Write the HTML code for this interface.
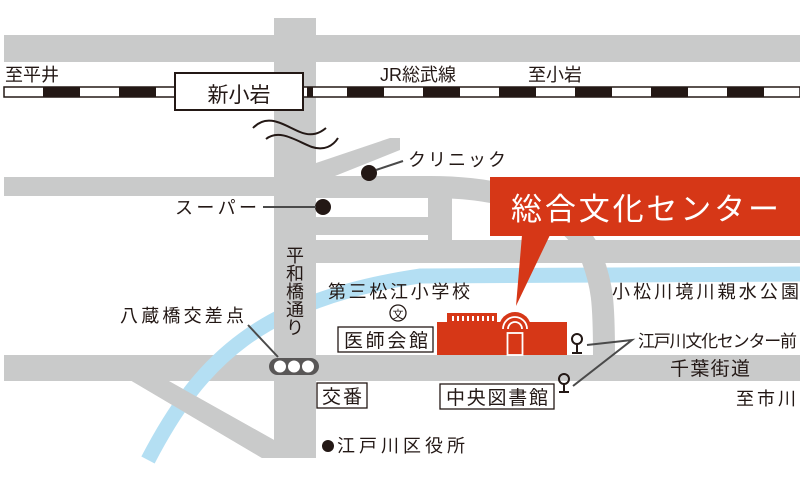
<!DOCTYPE html>
<html><head><meta charset="utf-8"><style>
body{margin:0;background:#fff}
svg{display:block}
text{font-family:"Liberation Sans","Noto Sans CJK JP",sans-serif;fill:#231815}
</style></head><body>
<svg width="800" height="478" viewBox="0 0 800 478" xmlns="http://www.w3.org/2000/svg">
<rect width="800" height="478" fill="#fff"/>
<g fill="#c9caca" stroke="none">
<rect x="4" y="35" width="796" height="27"/>
<rect x="274" y="18" width="42" height="440"/>
<rect x="4" y="177" width="312" height="19"/>
<rect x="4" y="355" width="796" height="26"/>
<polygon points="130,380 167,380 274,440 274,458 262,458"/>
<polygon points="316,163 390,138 400,138 400,150 330,178 316,178"/>
<rect x="316" y="217" width="115" height="18"/>
<rect x="316" y="240" width="484" height="23"/>
</g>
<!-- river -->
<path d="M148,460 C200,360 260,300 420,276 L800,274" fill="none" stroke="#b4dff3" stroke-width="15"/>
<!-- curved road -->
<path d="M316,187 L430,187 C515,187 575,212 592,258 C602,285 604,300 604,356" fill="none" stroke="#c9caca" stroke-width="22"/>
<path d="M440,190 L440,240" fill="none" stroke="#c9caca" stroke-width="24"/>
<rect x="274" y="290" width="42" height="91" fill="#c9caca"/>
<polygon points="130,380 167,380 274,440 274,458 262,458" fill="#c9caca"/>
<!-- railway -->
<rect x="4" y="87" width="796" height="10" fill="#fff" stroke="#231815" stroke-width="1.5"/>
<g fill="#231815">
<rect x="43" y="87" width="37" height="10"/><rect x="119" y="87" width="37" height="10"/>
<rect x="307" y="87" width="6" height="10"/><rect x="347" y="87" width="37" height="10"/>
<rect x="423" y="87" width="37" height="10"/><rect x="499" y="87" width="37" height="10"/>
<rect x="575" y="87" width="37" height="10"/><rect x="651" y="87" width="37" height="10"/>
<rect x="727" y="87" width="37" height="10"/>
</g>
<rect x="175" y="73" width="128" height="37" fill="#fff" stroke="#231815" stroke-width="2"/>
<text x="239" y="102" font-size="21" text-anchor="middle">新小岩</text>
<text x="5" y="81" font-size="18">至平井</text>
<text x="380" y="81" font-size="18">JR総武線</text>
<text x="528" y="81" font-size="18">至小岩</text>
<path d="M253,128 C268,112 285,126 300,132 C312,137 320,133 326,128" fill="none" stroke="#231815" stroke-width="2"/>
<path d="M266,139 C280,128 298,142 312,147 C324,151 333,146 338,138" fill="none" stroke="#231815" stroke-width="2"/>
<circle cx="369" cy="173" r="8" fill="#231815"/>
<line x1="376" y1="170" x2="403" y2="161" stroke="#4a4a4a" stroke-width="2"/>
<text x="408" y="166" font-size="18" textLength="98">クリニック</text>
<circle cx="323" cy="207" r="8" fill="#231815"/>
<line x1="263" y1="207" x2="316" y2="207" stroke="#4a4a4a" stroke-width="2"/>
<text x="175" y="214" font-size="18" textLength="82">スーパー</text>
<g font-size="18" text-anchor="middle">
<text x="295" y="262">平</text><text x="295" y="280">和</text><text x="295" y="298">橋</text><text x="295" y="316">通</text><text x="295" y="334">り</text>
</g>
<text x="120" y="322" font-size="18" textLength="124">八蔵橋交差点</text>
<line x1="248" y1="325" x2="278" y2="357" stroke="#4a4a4a" stroke-width="2"/>
<rect x="269" y="358" width="50" height="17" rx="8.5" fill="#595757"/>
<circle cx="280" cy="366.5" r="6" fill="#fff"/><circle cx="294" cy="366.5" r="6" fill="#fff"/><circle cx="308" cy="366.5" r="6" fill="#fff"/>
<text x="328" y="298" font-size="18" textLength="142">第三松江小学校</text>
<circle cx="398" cy="313" r="8" fill="#fff" stroke="#231815" stroke-width="1.3"/>
<text x="398" y="318" font-size="11" text-anchor="middle">文</text>
<rect x="338" y="327" width="95" height="25" fill="#fff" stroke="#231815" stroke-width="1.3"/>
<text x="344" y="347" font-size="19" textLength="84">医師会館</text>
<rect x="317" y="383" width="50" height="25" fill="#fff" stroke="#231815" stroke-width="1.3"/>
<text x="322" y="403" font-size="19" textLength="40">交番</text>
<rect x="440" y="384" width="114" height="25" fill="#fff" stroke="#231815" stroke-width="1.3"/>
<text x="446" y="404" font-size="19" textLength="102">中央図書館</text>
<circle cx="328" cy="446" r="6" fill="#231815"/>
<text x="337" y="452" font-size="18" textLength="128">江戸川区役所</text>
<text x="612" y="298" font-size="18" textLength="187">小松川境川親水公園</text>
<text x="638" y="347" font-size="17" textLength="159">江戸川文化センター前</text>
<text x="670" y="375" font-size="19" textLength="80">千葉街道</text>
<text x="736" y="405" font-size="18" textLength="60">至市川</text>
<g fill="none" stroke="#231815" stroke-width="2">
<circle cx="577" cy="339" r="5"/><line x1="577" y1="344" x2="577" y2="353"/><line x1="572" y1="353" x2="582" y2="353"/>
<circle cx="564" cy="379" r="5"/><line x1="564" y1="384" x2="564" y2="392"/><line x1="559" y1="392" x2="569" y2="392"/>
</g>
<polyline points="587,345 632,340 573,386" fill="none" stroke="#4a4a4a" stroke-width="2"/>
<rect x="490" y="177" width="310" height="59" fill="#d63717"/>
<polygon points="522,235 550,235 516,306" fill="#d63717"/>
<text x="511" y="220" font-size="31" textLength="268" style="fill:#fff">総合文化センター</text>
<g fill="#d63717">
<rect x="437" y="322" width="130" height="33"/>
<rect x="447" y="313" width="50" height="10"/>
<path d="M499,328 A16,16 0 0 1 531,328 L531,355 L499,355 Z"/>
</g>
<g fill="#fff">
<rect x="452" y="316" width="2" height="5"/><rect x="457" y="316" width="2" height="5"/><rect x="462" y="316" width="2" height="5"/><rect x="467" y="316" width="2" height="5"/><rect x="472" y="316" width="2" height="5"/><rect x="477" y="316" width="2" height="5"/><rect x="482" y="316" width="2" height="5"/><rect x="487" y="316" width="2" height="5"/><rect x="492" y="316" width="2" height="5"/>
</g>
<path d="M503,329 A12,12 0 0 1 527,329" fill="none" stroke="#fff" stroke-width="1.8"/>
<path d="M508,329 A7,7 0 0 1 522,329" fill="none" stroke="#fff" stroke-width="1.8"/>
<rect x="507.5" y="333" width="15" height="22" fill="none" stroke="#fff" stroke-width="1.8"/>
</svg>
</body></html>
